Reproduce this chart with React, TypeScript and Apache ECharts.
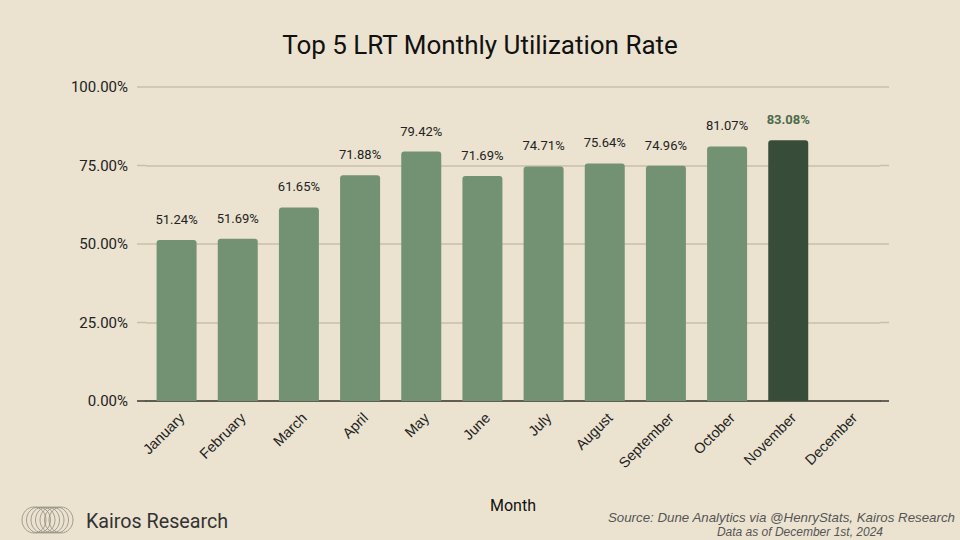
import React, { useEffect, useRef } from "react";
import * as echarts from "echarts";

const months = ["January","February","March","April","May","June","July","August","September","October","November","December"];
const rates: (number | null)[] = [51.24, 51.69, 61.65, 71.88, 79.42, 71.69, 74.71, 75.64, 74.96, 81.07, 83.08, null];
const highlightIndex = 10;
const yTicks = [0, 25, 50, 75, 100];

export default function App() {
  const ref = useRef<HTMLDivElement>(null);
  useEffect(() => {
    const chart = echarts.init(ref.current!, undefined, { renderer: "svg" });
    const logoRings = [0, 1, 2, 3, 4, 5, 6].map((i) => ({
      type: "ellipse",
      shape: { cx: 34 + i * 4.5, cy: 520, rx: 12, ry: 13 },
      style: { fill: "none", stroke: "#8f8a80", lineWidth: 0.8 },
    }));
    const gridLeft = 146;
    const gridRight = 880;
    chart.setOption({
      animation: false,
      backgroundColor: "#ebe3d0",
      title: {
        text: "Top 5 LRT Monthly Utilization Rate",
        left: "center",
        top: 27,
        textStyle: { fontFamily: "Roboto", fontSize: 26, fontWeight: "normal", color: "#111" },
      },
      grid: { left: gridLeft, right: 960 - gridRight, top: 87, bottom: 139, containLabel: false },
      xAxis: {
        type: "category",
        data: months,
        name: "Month",
        nameLocation: "middle",
        nameGap: 96,
        nameTextStyle: { fontFamily: "Roboto", fontSize: 16, color: "#111" },
        axisLine: { lineStyle: { color: "#3a3a32", width: 1.5 } },
        axisTick: { show: false },
        axisLabel: {
          rotate: 45,
          interval: 0,
          fontFamily: "Liberation Sans",
          fontSize: 14.5,
          color: "#222",
          margin: 9,
          verticalAlign: "top",
        },
      },
      yAxis: {
        type: "value",
        min: 0,
        max: 100,
        interval: 25,
        axisLine: { show: false },
        axisTick: { show: false },
        splitLine: { lineStyle: { color: "#c9bfa9", width: 1.5 } },
        axisLabel: {
          fontFamily: "Roboto",
          fontSize: 15,
          color: "#222",
          margin: 18,
          formatter: (v: number) => (yTicks.includes(v) ? v.toFixed(2) + "%" : ""),
        },
      },
      series: [
        {
          type: "bar",
          barWidth: 40,
          data: rates.map((v, i) =>
            i === highlightIndex
              ? {
                  value: v,
                  itemStyle: { color: "#384d39" },
                  label: { color: "#4d6a4d", fontWeight: "bold" },
                }
              : { value: v }
          ),
          itemStyle: { color: "#739273", borderRadius: [3, 3, 0, 0] },
          label: {
            show: true,
            position: "top",
            distance: 14,
            fontFamily: "Roboto",
            fontSize: 13,
            color: "#222",
            formatter: (p: any) => (p.value == null ? "" : Number(p.value).toFixed(2) + "%"),
          },
        },
      ],
    });
    const ext: any[] = [];
    yTicks.forEach((t) => {
      const y = chart.convertToPixel({ yAxisIndex: 0 }, t) as number;
      const stroke = t === 0 ? "#3a3a32" : "#c9bfa9";
      ext.push({ type: "line", shape: { x1: 137, y1: y, x2: gridLeft, y2: y }, style: { stroke, lineWidth: 1.5 } });
      ext.push({ type: "line", shape: { x1: gridRight, y1: y, x2: 889, y2: y }, style: { stroke, lineWidth: 1.5 } });
    });
    chart.setOption({
      graphic: [
        ...ext,
        ...logoRings,
        {
          type: "text",
          x: 86,
          y: 521,
          style: { text: "Kairos Research", fontFamily: "Roboto", fontSize: 19.7, fill: "#333", verticalAlign: "middle" },
        },
        {
          type: "text",
          x: 955,
          y: 517,
          style: {
            text: "Source: Dune Analytics via @HenryStats, Kairos Research",
            fontFamily: "Liberation Sans",
            fontStyle: "italic",
            fontSize: 13.3,
            fill: "#555",
            align: "right",
            verticalAlign: "middle",
          },
        },
        {
          type: "text",
          x: 883,
          y: 532,
          style: {
            text: "Data as of December 1st, 2024",
            fontFamily: "Liberation Sans",
            fontStyle: "italic",
            fontSize: 12,
            fill: "#555",
            align: "right",
            verticalAlign: "middle",
          },
        },
      ],
    });
    return () => chart.dispose();
  }, []);
  return <div ref={ref} style={{ width: 960, height: 540, position: "absolute", left: 0, top: 0 }} />;
}
